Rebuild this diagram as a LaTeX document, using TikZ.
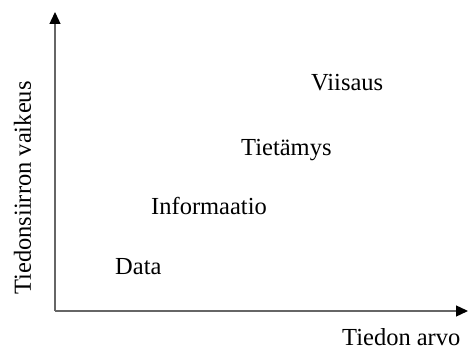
\documentclass[tikz,border=0pt]{standalone}
\usepackage{fontspec}
\setmainfont{Liberation Serif}
\usetikzlibrary{arrows.meta}
\begin{document}
\begin{tikzpicture}[x=1pt,y=1pt,
  axis/.style={line width=1.3pt, black!60,
    -{Triangle[length=12pt,width=11pt,color=black]}},
  lbl/.style={inner sep=0pt, anchor=base west, font=\fontsize{24.5}{28}\selectfont}]
  \useasboundingbox (0,0) rectangle (468,350);
  % axes
  \coordinate (o) at (55,39);
  \coordinate (ytop) at (55,338);
  \coordinate (xend) at (468,39);
  \draw[axis] (o) -- (ytop);
  \draw[axis] (o) -- (xend);
  % axis titles
  \node[lbl] (xlab) at (342,4.5) {Tiedon arvo};
  \node[lbl, rotate=90] (ylab) at (31,55) {Tiedonsiirron vaikeus};
  % levels
  \node[lbl] (data) at (115,75) {Data};
  \node[lbl] (info) at (151,135) {Informaatio};
  \node[lbl] (tieto) at (241,194) {Tietämys};
  \node[lbl] (viisaus) at (311,259) {Viisaus};
\end{tikzpicture}
\end{document}
